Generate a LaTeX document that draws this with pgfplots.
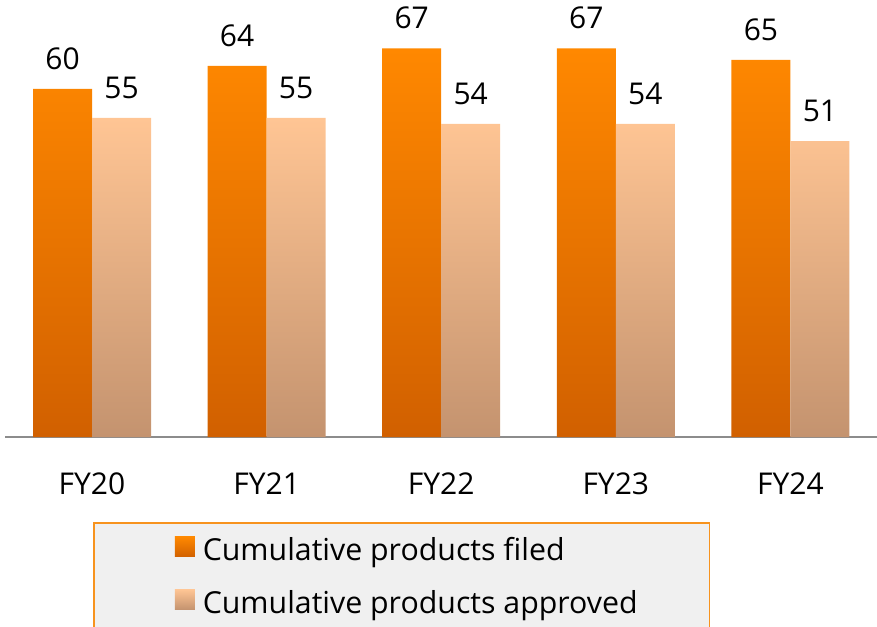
\documentclass[border=0pt]{standalone}
\usepackage{fontspec}
\setmainfont{Open Sans}
\usepackage{pgfplots}
\pgfplotsset{compat=1.18}
\definecolor{otop}{RGB}{255,136,0}
\definecolor{obot}{RGB}{209,96,0}
\definecolor{ltop}{RGB}{255,197,148}
\definecolor{lbot}{RGB}{196,147,111}
\definecolor{lborder}{RGB}{247,147,30}
\definecolor{lfill}{RGB}{240,240,240}
\definecolor{axgray}{RGB}{140,140,140}
\begin{document}
\begin{tikzpicture}
\begin{axis}[
  at={(0pt,0pt)}, anchor=south west,
  x=174.6pt, y=5.8pt,
  xmin=-0.4983, xmax=4.496, ymin=0, ymax=75.34,
  ybar=0pt, bar width=59pt,
  axis x line=bottom, axis y line=none,
  x axis line style={draw=axgray, line width=2pt, -},
  xtick={0,1,2,3,4},
  xticklabels={FY20,FY21,FY22,FY23,FY24},
  major tick length=0pt, ytick=\empty,
  xticklabel style={anchor=base, yshift=-57.7pt, font=\fontsize{30}{36}\selectfont},
  /pgf/number format/assume math mode=true,
  nodes near coords,
  nodes near coords style={anchor=base, yshift=19.7pt, font=\fontsize{30}{36}\selectfont, text=black},
  clip=false,
  legend style={
    at={([xshift=88pt,yshift=-85pt]axis description cs:0,0)}, anchor=north west,
    draw=lborder, line width=1.5pt, fill=lfill,
    inner xsep=0pt, inner ysep=0pt, row sep=0pt,
    font=\fontsize{30.3}{36}\selectfont,
  },
  legend cell align=left,
  legend image code/.code={%
    \pgfpathrectangle{\pgfpoint{0pt}{-25.8pt}}{\pgfpoint{107pt}{52.7pt}}%
    \pgfusepath{use as bounding box}%
    \path[#1, draw=none] (81pt,-7.1pt) rectangle (101pt,12.9pt);},
]
\addplot[draw=none, top color=otop, bottom color=obot] coordinates {(0,60) (1,64) (2,67) (3,67) (4,65)};
\addlegendentry{Cumulative products filed}
\addplot[draw=none, top color=ltop, bottom color=lbot] coordinates {(0,55) (1,55) (2,54) (3,54) (4,51)};
\addlegendentry{Cumulative products approved\hspace*{70pt}}
\end{axis}
\pgfresetboundingbox
\path[use as bounding box] (-5pt,-189pt) rectangle (872pt,437pt);
\end{tikzpicture}
\end{document}
